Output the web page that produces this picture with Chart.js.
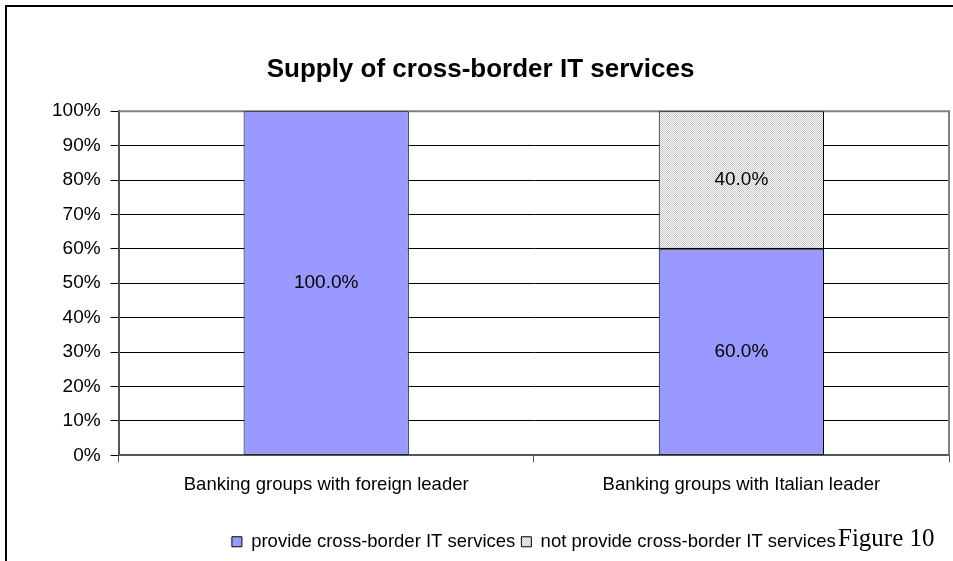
<!DOCTYPE html>
<html>
<head>
<meta charset="utf-8">
<script src="https://cdn.jsdelivr.net/npm/chart.js@4/dist/chart.umd.min.js"></script>
<style>
  html, body { margin: 0; padding: 0; background: #fff; }
  #wrap { position: relative; width: 953px; height: 561px; overflow: hidden; }
  #frame { position: absolute; left: 5px; top: 5px; right: -10px; bottom: -10px;
           border-top: 2px solid #000; border-left: 2px solid #000; pointer-events: none; }
  #fig { position: absolute; left: 838px; top: 524px; font-family: "Liberation Serif", "DejaVu Serif", serif;
         font-size: 25px; color: #000; }
  canvas { position: absolute; left: 0; top: 0; }
</style>
</head>
<body>
<div id="wrap">
  <canvas id="chart" width="953" height="561"></canvas>
  <div id="frame"></div>
  <div id="fig">Figure 10</div>
</div>
<script>
// --- dati del grafico ---
const categories = ['Banking groups with foreign leader', 'Banking groups with Italian leader'];
const seriesNames = ['provide cross-border IT services', 'not provide cross-border IT services'];
const provideValues = [100.0, 60.0];
const notProvideValues = [0.0, 40.0];
const yTicks = [0, 10, 20, 30, 40, 50, 60, 70, 80, 90, 100];

const FONT = '"Liberation Sans", Arial, sans-serif';

// pattern puntinato grigio per la seconda serie
function makeDotPattern() {
    const c = document.createElement('canvas');
    c.width = 2; c.height = 2;
    const g = c.getContext('2d');
    g.fillStyle = '#fafafa';
    g.fillRect(0, 0, 2, 2);
    g.fillStyle = '#c6c6c6';
    g.fillRect(0, 0, 1, 1);
    g.fillRect(1, 1, 1, 1);
    return g.createPattern(c, 'repeat');
}

// bordo dell'area del grafico (grigio, sopra e a destra)
const plotBorder = {
    id: 'plotBorder',
    beforeDatasetsDraw(chart) {
        const { ctx, chartArea: a } = chart;
        ctx.save();
        ctx.strokeStyle = '#808080';
        ctx.lineWidth = 2;
        ctx.beginPath();
        ctx.moveTo(a.left, a.top);
        ctx.lineTo(a.right, a.top);
        ctx.lineTo(a.right, a.bottom);
        ctx.stroke();
        ctx.restore();
    }
};

// etichette dei valori al centro delle barre
const barLabels = {
    id: 'barLabels',
    afterDatasetsDraw(chart) {
        const { ctx } = chart;
        ctx.save();
        ctx.font = '19px ' + FONT;
        ctx.fillStyle = '#000';
        ctx.textAlign = 'center';
        ctx.textBaseline = 'middle';
        chart.data.datasets.forEach((ds, i) => {
            chart.getDatasetMeta(i).data.forEach((bar, j) => {
                const v = ds.data[j];
                if (!v) return;
                const y = (bar.y + bar.base) / 2;
                ctx.fillText(v.toFixed(1) + '%', bar.x, y);
            });
        });
        ctx.restore();
    }
};

const ctx = document.getElementById('chart').getContext('2d');
new Chart(ctx, {
    type: 'bar',
    data: {
        labels: categories,
        datasets: [
            { label: seriesNames[0], data: provideValues, backgroundColor: '#9999ff',
              borderColor: '#000', borderWidth: 1, borderSkipped: false },
            { label: seriesNames[1], data: notProvideValues, backgroundColor: makeDotPattern(),
              borderColor: '#000', borderWidth: 1, borderSkipped: false }
        ]
    },
    options: {
        responsive: false,
        animation: false,
        layout: { padding: { top: 0, left: 12, right: 4, bottom: 0 } },
        datasets: { bar: { categoryPercentage: 1.0, barPercentage: 0.398 } },
        plugins: {
            title: {
                display: true,
                text: 'Supply of cross-border IT services',
                color: '#000',
                font: { family: FONT, size: 26, weight: 'bold' },
                padding: { top: 54, bottom: 26 }
            },
            legend: {
                position: 'bottom',
                fullSize: false,
                labels: {
                    color: '#000',
                    boxWidth: 10, boxHeight: 10,
                    padding: 6,
                    font: { family: FONT, size: 18.5 }
                }
            },
            tooltip: { enabled: false }
        },
        scales: {
            x: {
                stacked: true,
                grid: { offset: true, drawOnChartArea: false, tickLength: 7, color: '#555' },
                border: { color: '#555', width: 2 },
                ticks: { color: '#000', padding: 12, font: { family: FONT, size: 18.5 } },
                afterFit(scale) { scale.height += 18; }
            },
            y: {
                stacked: true,
                min: 0, max: 100,
                afterBuildTicks(axis) { axis.ticks = yTicks.map(v => ({ value: v })); },
                grid: { color: '#000', lineWidth: 1, tickLength: 8 },
                border: { color: '#555', width: 2 },
                ticks: { color: '#000', padding: 10, font: { family: FONT, size: 19 },
                         callback: v => v + '%' },
                afterFit(scale) { scale.width += 30; }
            }
        }
    },
    plugins: [plotBorder, barLabels]
});
</script>
</body>
</html>
